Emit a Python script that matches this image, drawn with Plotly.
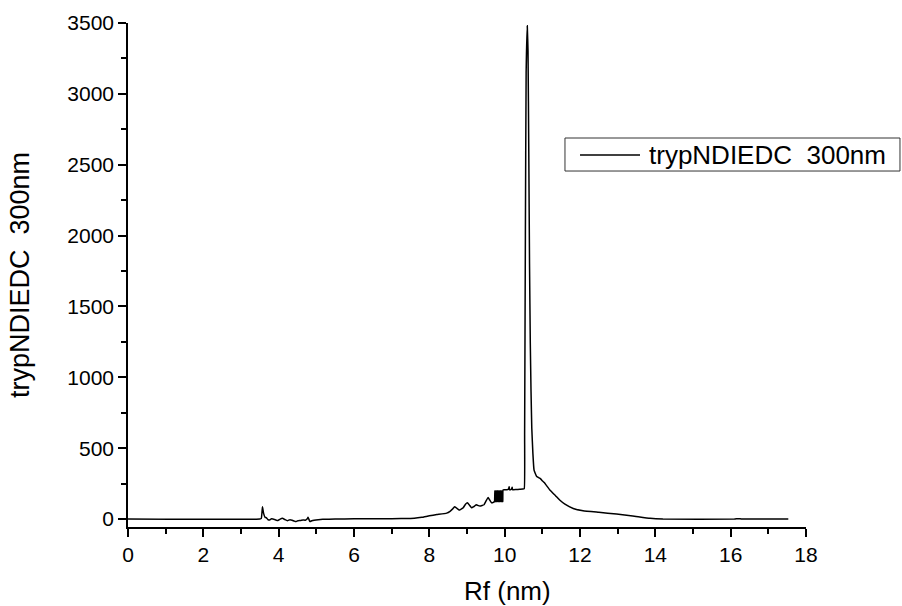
import plotly.graph_objects as go

series_name = "trypNDIEDC\u00a0 300nm"
x_title = "Rf (nm)"
y_title = "trypNDIEDC\u00a0 300nm"

rf = [0.0, 3.50, 3.54, 3.57, 3.60, 3.64, 3.67, 3.72, 3.76, 3.81, 3.85, 3.92, 3.98, 4.04, 4.10,
      4.16, 4.23, 4.30, 4.36, 4.41, 4.45, 4.51, 4.58, 4.65, 4.71, 4.76, 4.78, 4.80, 4.83, 4.88,
      4.94, 5.05, 5.17, 5.5, 6.0, 6.5, 7.0, 7.5, 7.6, 7.8, 8.0, 8.2, 8.46, 8.55, 8.62, 8.67,
      8.72, 8.78, 8.81, 8.90, 8.96, 9.01, 9.06, 9.12, 9.18, 9.25, 9.30, 9.34, 9.40, 9.45, 9.50,
      9.56, 9.60, 9.65, 9.70,
      9.73, 9.74, 9.75, 9.76, 9.77, 9.78, 9.79, 9.80, 9.81, 9.82, 9.83, 9.84, 9.85, 9.86,
      9.87, 9.88, 9.89, 9.90, 9.91, 9.92, 9.93, 9.94, 9.95,
      9.96, 10.05, 10.10, 10.12, 10.13, 10.18, 10.20, 10.21, 10.30, 10.40, 10.48, 10.52,
      10.53, 10.55, 10.57, 10.60, 10.62, 10.64, 10.66, 10.68, 10.70, 10.72, 10.75, 10.78,
      10.85, 10.95, 11.00, 11.05, 11.2, 11.35, 11.46, 11.6, 11.82, 12.08, 12.5, 12.97, 13.4,
      13.86, 14.2, 16.1, 16.2, 16.3, 17.53]

absorb = [0, 0, 5, 87, 40, 12, 10, -5, -7, 2, 0, -6, -10, 0, 5,
          -3, -12, -4, -8, -14, -18, -12, -10, -6, -8, 2, 12, 0, -18, -12,
          -8, -4, -2, 0, 2, 3, 3, 4, 5, 12, 23, 32, 42, 55, 72, 87,
          78, 66, 64, 80, 105, 115, 100, 80, 88, 101, 95, 92, 96, 101, 125,
          153, 135, 115, 118,
          125, 200, 122, 200, 122, 200, 122, 200, 122, 200, 122, 200, 122, 200,
          122, 200, 122, 200, 122, 200, 122, 200, 122,
          207, 207, 210, 228, 206, 210, 225, 207, 208, 210, 212, 215,
          600, 2000, 3150, 3480, 3300, 2600, 1800, 1250, 900, 640, 460, 345,
          300, 285, 270, 258, 205, 165, 134, 105, 75, 59, 48, 35, 22,
          5, 0, 0, 3, 0, 0]

x_ticks = [0, 2, 4, 6, 8, 10, 12, 14, 16, 18]
y_ticks = [0, 500, 1000, 1500, 2000, 2500, 3000, 3500]

FONT = "Liberation Sans, Arial, sans-serif"

fig = go.Figure()
fig.add_trace(go.Scatter(x=rf, y=absorb, mode="lines", name=series_name,
                         line=dict(color="black", width=1.5, shape="spline", smoothing=0.3),
                         showlegend=False))

axis_common = dict(
    showgrid=False, zeroline=False, showline=True, linecolor="black", linewidth=1.5,
    ticks="outside", ticklen=8, tickwidth=1.5, tickcolor="black",
    tickfont=dict(family=FONT, size=21, color="black"),
    mirror=False,
)

fig.update_layout(
    width=902, height=606,
    margin=dict(l=128, r=96, t=23, b=79),
    paper_bgcolor="white", plot_bgcolor="white",
    font=dict(family=FONT, color="black"),
    xaxis=dict(range=[0, 18], tickvals=x_ticks,
               minor=dict(dtick=1, ticks="outside", ticklen=5, tickwidth=1.5, tickcolor="black"),
               **axis_common),
    yaxis=dict(range=[-56, 3500], tickvals=y_ticks,
               minor=dict(dtick=250, ticks="outside", ticklen=5, tickwidth=1.5, tickcolor="black"),
               title=dict(text=y_title, font=dict(family=FONT, size=27, color="black"), standoff=30),
               **axis_common),
    showlegend=False,
)

# x-axis title (placed slightly right of centre as in the reference)
fig.add_annotation(text=x_title, xref="paper", yref="paper", x=0.559, y=-0.127,
                   xanchor="center", yanchor="middle", showarrow=False,
                   font=dict(family=FONT, size=26, color="black"))

# legend box (drawn manually to match the compact boxed legend)
fig.add_shape(type="rect", xref="paper", yref="paper", x0=0.6445, x1=1.1386, y0=0.7063, y1=0.7718,
              line=dict(color="#333", width=1), fillcolor="white", layer="above")
fig.add_shape(type="line", xref="paper", yref="paper", x0=0.6667, x1=0.7552, y0=0.7381, y1=0.7381,
              line=dict(color="black", width=1.5), layer="above")
fig.add_annotation(text=series_name, xref="paper", yref="paper", x=0.7655, y=0.7381,
                   xanchor="left", yanchor="middle", showarrow=False,
                   font=dict(family=FONT, size=26, color="black"))

fig.write_html("out.html")
